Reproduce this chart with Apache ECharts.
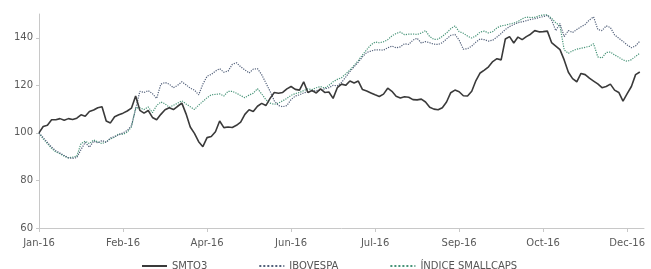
<!DOCTYPE html>
<html>
<head>
<meta charset="utf-8">
<script src="https://cdn.jsdelivr.net/npm/echarts@6/dist/echarts.min.js"></script>
<style>
  html, body { margin: 0; padding: 0; background: #fff; }
  #chart { width: 651px; height: 269px; }
</style>
</head>
<body>
<div id="chart"></div>
<script>
// tick labels every 20 trading-day steps
const tickLabels = ['Jan-16', 'Feb-16', 'Apr-16', 'Jun-16', 'Jul-16', 'Sep-16', 'Oct-16', 'Dec-16'];

const smto3 = [
  100, 102.7, 103.2, 105.5, 105.5, 106, 105.3, 106, 105.6, 106.2,
  107.6, 107, 109, 109.6, 110.6, 111, 105, 104.2, 106.8, 107.6,
  108.3, 109.2, 110.4, 115.5, 109.5, 108.3, 109.4, 106.5, 105.5, 107.8,
  109.7, 110.6, 109.8, 111.2, 112.5, 108, 102.5, 99.8, 96.3, 94.2,
  98, 98.5, 100.5, 105, 102.2, 102.5, 102.3, 103.2, 104.5, 107.8,
  109.7, 109, 111.2, 112.4, 111.5, 114.5, 117, 116.7, 117, 118.5,
  119.5, 118.3, 118, 121.5, 117, 117.8, 116.8, 118.5, 117, 117.2,
  114.5, 119, 120.5, 120, 121.8, 121, 121.8, 118.2, 117.6, 116.8,
  116, 115.3, 116.3, 118.8, 117.5, 115.4, 114.7, 115.2, 115, 114,
  113.9, 114.2, 113, 110.8, 110, 109.7, 110.6, 113, 116.9, 118,
  117.3, 115.6, 115.5, 117.5, 122, 125.2, 126.4, 127.8, 130, 131.2,
  130.7, 139.5, 140.5, 137.8, 140.3, 139.2, 140.5, 141.5, 143, 142.5,
  142.6, 142.8, 138, 136.5, 135, 130.7, 125.5, 122.8, 121.5, 125,
  124.5, 123, 121.8, 120.6, 119, 119.5, 120.5, 118, 117, 113.4,
  116.5, 119.5, 124.5, 125.6
];

const ibovespa = [
  100, 98, 96, 94, 92.5, 91.5, 90.5, 89.5, 89.3, 89.6,
  93, 96, 94, 96.5, 95.8, 96.8, 96, 97.8, 98.5, 99.2,
  100, 101, 103, 110, 117.5, 117, 117.8, 116.5, 114.5, 120.5,
  121.2, 120.5, 119, 120, 121.5, 120.2, 118.8, 118, 116, 120.5,
  123.8, 124.6, 126, 127, 125.5, 126, 128.8, 129.5, 127.8, 126.5,
  125.2, 126.8, 127, 124.5, 121, 117.5, 113.5, 111.5, 111, 111.5,
  114, 115.5, 116, 116.8, 117.3, 117.5, 117.8, 118, 118.5, 119,
  120, 119.8, 121.2, 123.5, 125.8, 127.8, 129.8, 132, 133.8, 134.4,
  134.9, 134.9, 134.8, 135.8, 136.5, 135.8, 136.2, 137.5, 137.2, 139,
  139.8, 137.8, 138.4, 137.9, 137.3, 137.2, 137.9, 139.5, 141, 141.4,
  139, 135.2, 135.4, 136.5, 138.2, 139.5, 139.2, 138.6, 139, 140.3,
  141.8, 143.5, 144.7, 145.6, 146.3, 146.7, 147.2, 147.7, 148, 148.5,
  148.9, 149.4, 147.5, 143, 146, 140.5, 143, 142.2, 143.5, 144.6,
  145.6, 147.5, 148.8, 143.5, 143, 145, 144.3, 141.2, 139.8, 138.5,
  137, 135.8, 136.6, 138.6
];

const smallcaps = [
  100, 97.5, 95.5, 93.5, 92, 91.2, 90.2, 89.5, 89.8, 90.2,
  95.5, 96.5, 95.5, 97, 96.2, 95.5, 96.3, 97.5, 98.2, 99.6,
  99.4, 100.3, 102.5, 110.5, 110.6, 109.8, 110.9, 108.5, 111.5, 113,
  112.2, 110.8, 111.6, 112.5, 113.5, 112.2, 111, 109.8, 111.7, 113.2,
  114.8, 116, 116.2, 116.4, 115.5, 117.5, 117.5, 116.7, 115.7, 114.8,
  115.9, 116.7, 118.6, 116.4, 114, 112.5, 112, 112.5, 113.5, 114.5,
  115.8, 116.5, 117, 117.8, 118.5, 118.2, 119, 119.5, 118.8, 120,
  121.5, 122.5, 123.2, 124.8, 126.4, 128.4, 130.4, 132.8, 135, 137,
  138.2, 137.9, 138.3, 139.2, 140.8, 141.8, 142.4, 141.3, 141.5, 141.6,
  141.4, 142, 143, 140.5, 139.3, 139.4, 140.6, 142, 143.8, 145,
  142.6, 141.9, 140.7, 139.9, 140.8, 142.4, 142.8, 142, 142.6, 144.2,
  145, 145.3, 145.8, 146.2, 146.8, 148, 148.7, 148.5, 148.6, 149.2,
  149.6, 149.6, 148.2, 146.3, 145, 134.9, 133.5, 134.5, 135.2, 135.6,
  136, 136.4, 137.5, 132, 131.5, 133.8, 134, 132.8, 131.8, 130.7,
  130.1, 130.8, 132.2, 133.5
];

const withIndex = arr => arr.map((v, i) => [i, v]);

const chart = echarts.init(document.getElementById('chart'));
const font = 'DejaVu Sans';

chart.setOption({
  animation: false,
  textStyle: { fontFamily: font },
  grid: { left: 39, right: 7, top: 14, bottom: 41 },
  legend: {
    left: 136,
    top: 256,
    itemWidth: 25,
    itemHeight: 8,
    itemGap: 51,
    itemStyle: { opacity: 0 },
    textStyle: { fontSize: 10, color: '#555', fontFamily: font },
    data: ['SMTO3', 'IBOVESPA', 'ÍNDICE SMALLCAPS']
  },
  xAxis: {
    type: 'value',
    min: 0,
    max: 144,
    interval: 20,
    axisLine: { lineStyle: { color: '#c8c8c8' } },
    axisTick: { length: 4, lineStyle: { color: '#c8c8c8' } },
    axisLabel: {
      color: '#5a5a5a',
      fontSize: 10,
      margin: 10,
      showMaxLabel: false,
      formatter: v => tickLabels[v / 20] || ''
    },
    splitLine: { show: false }
  },
  yAxis: {
    type: 'value',
    min: 60,
    max: 150,
    interval: 20,
    axisLine: { show: true, lineStyle: { color: '#c8c8c8' } },
    axisTick: { show: true, length: 3, lineStyle: { color: '#c8c8c8' } },
    axisLabel: { color: '#5a5a5a', fontSize: 10, margin: 6, showMaxLabel: false },
    splitLine: { show: false }
  },
  series: [
    {
      name: 'SMTO3',
      type: 'line',
      symbol: 'none',
      data: withIndex(smto3),
      lineStyle: { color: '#3a3a3a', width: 1.6 },
      itemStyle: { color: '#3a3a3a' },
      z: 3
    },
    {
      name: 'IBOVESPA',
      type: 'line',
      symbol: 'none',
      data: withIndex(ibovespa),
      lineStyle: { color: '#52607a', width: 1.2, type: 'dotted' },
      itemStyle: { color: '#52607a' },
      z: 2
    },
    {
      name: 'ÍNDICE SMALLCAPS',
      type: 'line',
      symbol: 'none',
      data: withIndex(smallcaps),
      lineStyle: { color: '#479478', width: 1.2, type: 'dotted' },
      itemStyle: { color: '#479478' },
      z: 1
    }
  ]
});
</script>
</body>
</html>
